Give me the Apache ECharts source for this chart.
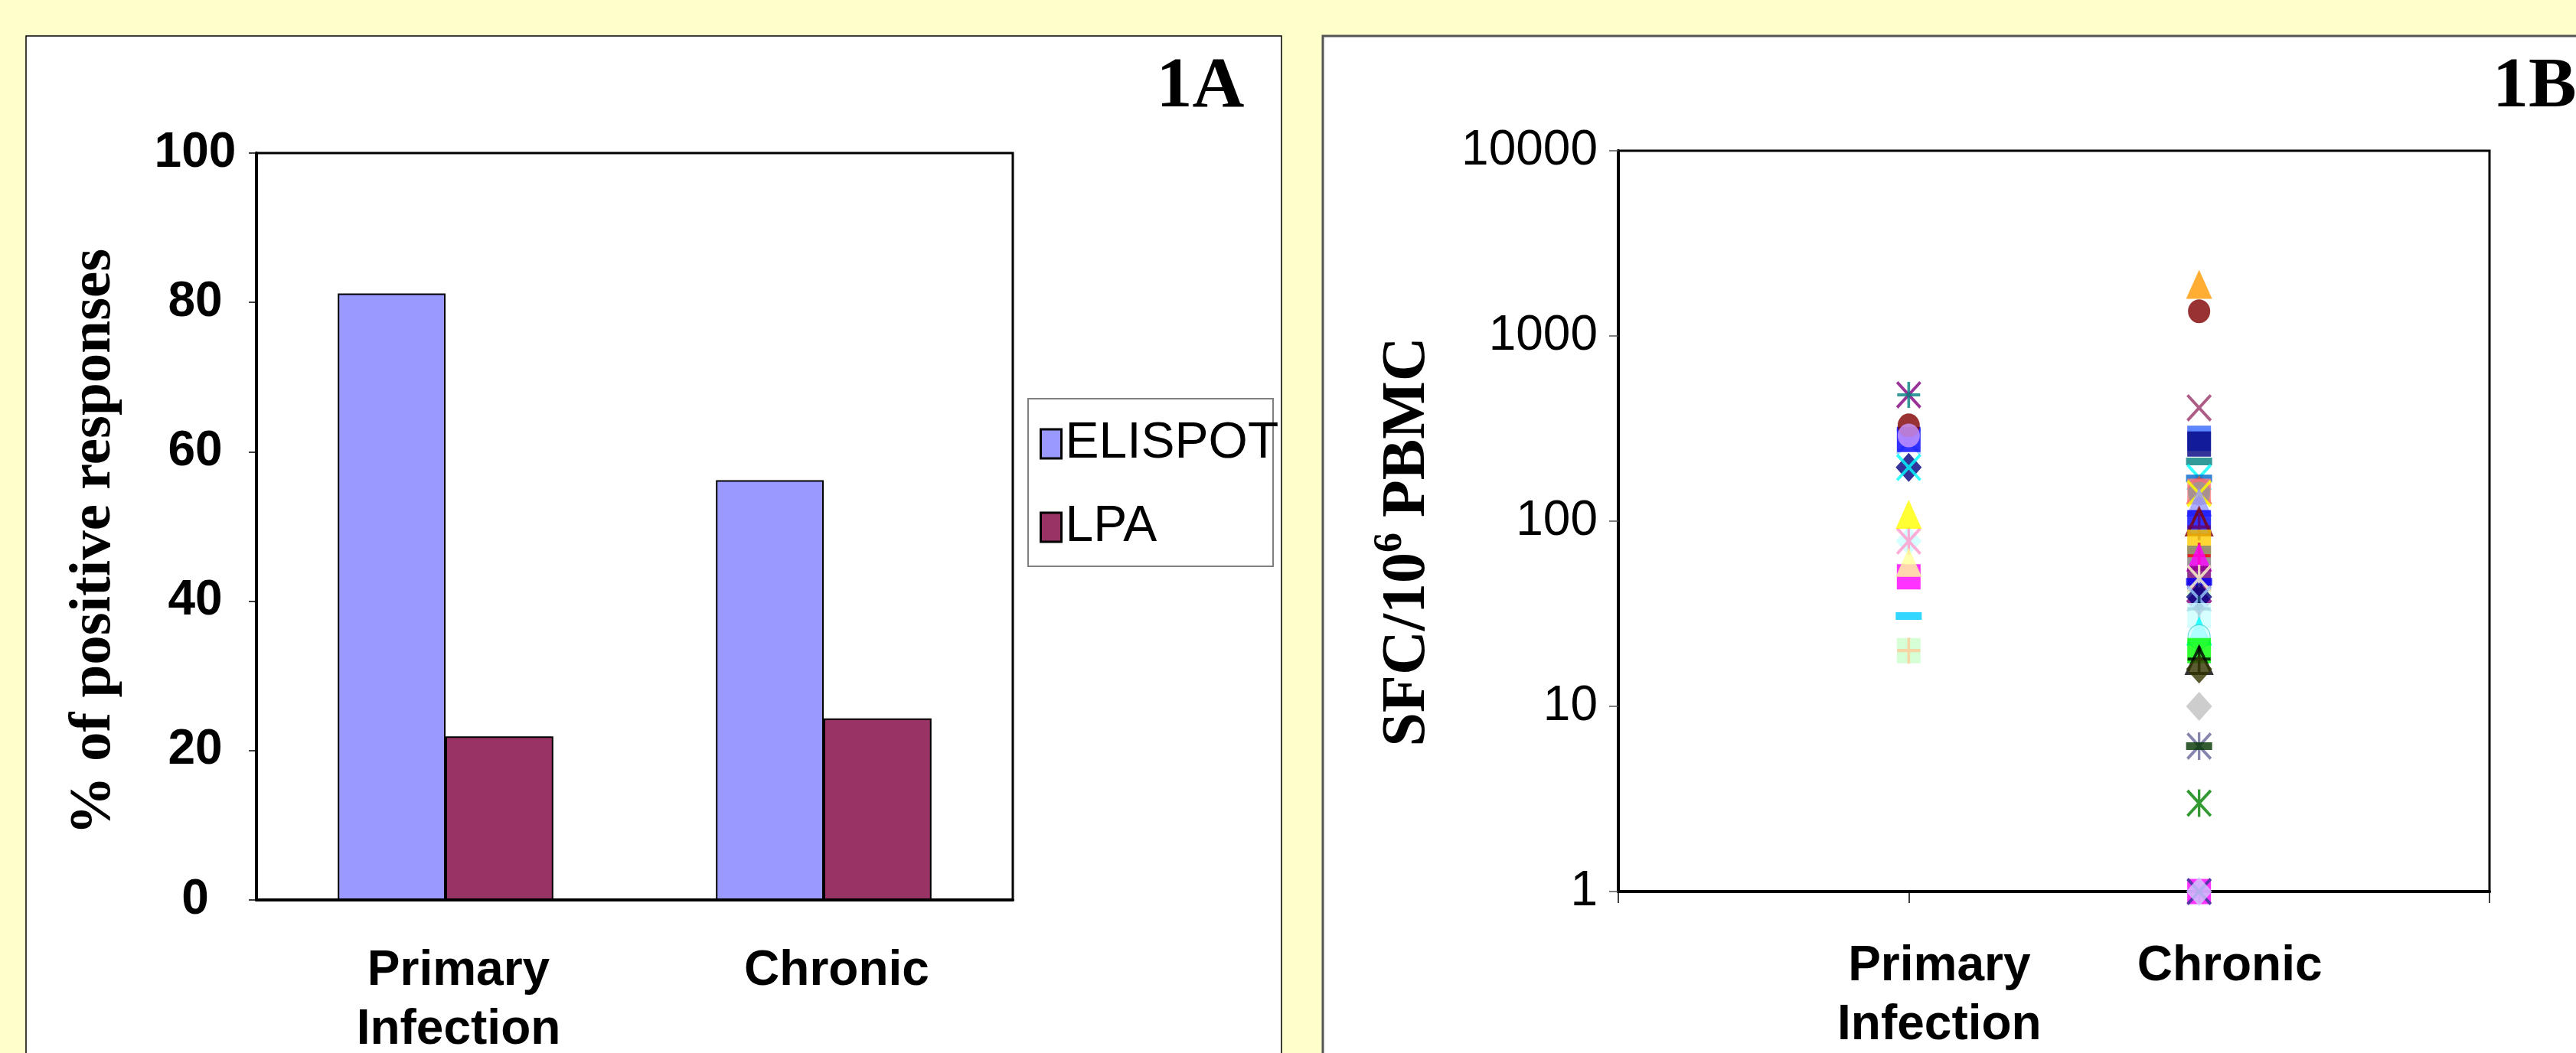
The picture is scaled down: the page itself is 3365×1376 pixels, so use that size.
<!DOCTYPE html>
<html>
<head>
<meta charset="utf-8">
<script src="https://cdn.jsdelivr.net/npm/echarts@6/dist/echarts.min.js"></script>
<style>
html,body{margin:0;padding:0;background:#FFFFCC;}
#chart{width:3365px;height:1376px;}
</style>
</head>
<body>
<div id="chart"></div>
<script>
// ---------- DATA ----------
const barCategories = ['Primary\nInfection', 'Chronic'];
const elispotValues = [81.2, 56.2];
const lpaValues = [21.9, 24.3];

const scatterGroups = ['Primary\nInfection', 'Chronic'];
const logTicks = [1, 10, 100, 1000, 10000];

const primaryValues = [481, 481, 269, 276, 329, 290, 195, 195, 78, 78, 109, 50, 60, 30.7, 20, 20];
const primaryMarkers = [
  ['x', '#800080'], ['plus', '#008080'], ['x', '#99CCFF'], ['square', '#0000FF'],
  ['circle', '#800000'], ['circle', '#CC99FF'], ['diamond', '#000080'], ['x', '#00FFFF'],
  ['diamond', '#CCFFFF'], ['star', '#FF99CC'], ['triangle', '#FFFF00'], ['square', '#FF00FF'],
  ['triangle', '#FFFF99'], ['dash', '#00CCFF'], ['square', '#CCFFCC'], ['plus', '#FFCC99']
];

const chronicValues = [1900, 1360, 409, 280, 261, 210, 172, 170, 148, 148, 145, 141, 141, 127,
  98, 99, 93, 77, 63, 65, 64, 46, 49, 47, 49, 37, 39, 38, 33.6, 30.9, 25.5, 23.8, 20, 17.7, 18,
  15.9, 10, 6.1, 6.1, 3, 1, 1, 1];
const chronicMarkers = [
  ['triangle', '#FF9900'], ['circle', '#800000'], ['x', '#993366'], ['square', '#3366FF'],
  ['square', '#000080'], ['dash', '#008080'], ['x', '#00FFFF'], ['dash', '#0066CC'],
  ['triangle', '#FF6600'], ['circle', '#993366'], ['square', '#FF8080'], ['circle', '#969696'],
  ['x', '#FFFF00'], ['triangle', '#9999FF'], ['square', '#0000FF'], ['hollowTriangle', '#800000'],
  ['plus', '#660066'], ['square', '#FFCC00'], ['square', '#808080'], ['plus', '#FF0000'],
  ['triangle', '#FF00FF'], ['square', '#CCFFCC'], ['square', '#800080'], ['dash', '#0000FF'],
  ['star', '#FFFFCC'], ['diamond', '#800080'], ['diamond', '#000080'], ['x', '#99CCFF'],
  ['plus', '#003366'], ['square', '#CCFFFF'], ['triangle', '#00FFFF'], ['circle', '#CCFFFF'],
  ['square', '#00FF00'], ['hollowTriangle', '#000000'], ['plus', '#000000'], ['diamond', '#333300'],
  ['diamond', '#C0C0C0'], ['star', '#666699'], ['dash', '#003300'], ['star', '#008000'],
  ['square', '#FF00FF'], ['x', '#333399'], ['diamond', '#CCCCFF']
];

// ---------- STYLE ----------
const SANS = 'Liberation Sans, Arial, sans-serif';
const SERIF = 'Liberation Serif, Times New Roman, serif';

const X_PATH = 'path://M0,8 L8,0 L100,92 L92,100 Z M92,0 L100,8 L8,100 L0,92 Z';
const PLUS_PATH = 'path://M44,0 L56,0 L56,100 L44,100 Z M0,44 L100,44 L100,56 L0,56 Z';
const STAR_PATH = 'path://M0,8 L8,0 L100,92 L92,100 Z M92,0 L100,8 L8,100 L0,92 Z M45,0 L55,0 L55,100 L45,100 Z';

const SYMBOLS = {
  circle: {symbol: 'circle', size: [29, 31]},
  square: {symbol: 'rect', size: [31, 33]},
  triangle: {symbol: 'triangle', size: [34, 38]},
  hollowTriangle: {symbol: 'triangle', size: [32, 34], hollow: true},
  diamond: {symbol: 'diamond', size: [34, 38]},
  dash: {symbol: 'rect', size: [34, 10]},
  x: {symbol: X_PATH, size: [33, 36]},
  plus: {symbol: PLUS_PATH, size: [30, 34]},
  star: {symbol: STAR_PATH, size: [33, 36]}
};

function buildPoints(xPos, values, markers) {
  return values.map(function (v, i) {
    const def = SYMBOLS[markers[i][0]];
    const color = markers[i][1];
    const item = {
      value: [xPos, v],
      symbol: def.symbol,
      symbolSize: def.size,
      itemStyle: def.hollow
        ? {color: 'rgba(0,0,0,0)', borderColor: color, borderWidth: 4}
        : {color: color}
    };
    if (markers[i][0] === 'circle' && color === '#CCFFFF') {
      item.itemStyle.borderColor = '#33CCCC';
      item.itemStyle.borderWidth = 1;
    }
    return item;
  });
}

const chart = echarts.init(document.getElementById('chart'), null, {renderer: 'canvas'});

const option = {
  animation: false,
  backgroundColor: '#FFFFCC',
  graphic: [
    {type: 'rect', z: -10, shape: {x: 34, y: 47, width: 1640, height: 1400},
      style: {fill: '#ffffff', stroke: '#000000', lineWidth: 1.5}},
    {type: 'rect', z: -10, shape: {x: 1728, y: 47, width: 1700, height: 1400},
      style: {fill: '#ffffff', stroke: '#555555', lineWidth: 3}},
    {type: 'rect', z: -5, shape: {x: 1343, y: 521, width: 320, height: 219},
      style: {fill: '#ffffff', stroke: '#808080', lineWidth: 2}},
    {type: 'text', z: 10, x: 1568, y: 115,
      style: {text: '1A', font: 'bold 94px ' + SERIF, fill: '#000', align: 'center', verticalAlign: 'middle'}},
    {type: 'text', z: 10, x: 3256, y: 115,
      style: {text: '1B', font: 'bold 94px ' + SERIF, fill: '#000', align: 'left', verticalAlign: 'middle'}},
    {type: 'text', z: 10, x: 123, y: 708, rotation: Math.PI / 2,
      style: {text: '% of positive responses', font: 'bold 77px ' + SERIF, fill: '#000',
        align: 'center', verticalAlign: 'middle'}},
    {type: 'text', z: 10, x: 1831, y: 708, rotation: Math.PI / 2,
      style: {
        text: '{a|SFC/10}{s|6}{a| PBMC}',
        align: 'center', verticalAlign: 'middle',
        rich: {
          a: {fontSize: 80, fontWeight: 'bold', fontFamily: SERIF, fill: '#000', lineHeight: 96, verticalAlign: 'bottom'},
          s: {fontSize: 52, fontWeight: 'bold', fontFamily: SERIF, fill: '#000', lineHeight: 60, verticalAlign: 'bottom', padding: [0, 0, 36, 0]}
        }
      }}
  ],
  legend: {
    data: ['ELISPOT', 'LPA'],
    orient: 'vertical',
    left: 1358, top: 544,
    padding: 0,
    itemWidth: 27, itemHeight: 38, itemGap: 37,
    icon: 'rect',
    itemStyle: {borderColor: '#000', borderWidth: 3},
    textStyle: {fontSize: 66, fontFamily: SANS, color: '#000', lineHeight: 72}
  },
  grid: [
    {left: 335, top: 200, width: 988, height: 976, show: true, backgroundColor: '#fff',
      borderColor: '#000', borderWidth: 3, containLabel: false, outerBoundsMode: 'none'},
    {left: 2114, top: 197, width: 1138, height: 968, show: true, backgroundColor: '#fff',
      borderColor: '#000', borderWidth: 3, containLabel: false, outerBoundsMode: 'none'}
  ],
  xAxis: [
    {
      gridIndex: 0, type: 'category', data: barCategories,
      axisLine: {lineStyle: {color: '#000', width: 4}},
      axisTick: {length: 15, lineStyle: {color: '#000', width: 1.5}},
      axisLabel: {fontSize: 64, fontWeight: 'bold', fontFamily: SANS, color: '#000',
        lineHeight: 77, margin: 55, padding: [0, 0, 0, 34]}
    },
    {
      gridIndex: 1, type: 'value', min: 0, max: 3, interval: 1,
      splitLine: {show: false},
      axisLine: {onZero: false, lineStyle: {color: '#000', width: 4}},
      axisTick: {length: 15, lineStyle: {color: '#000', width: 1.5}},
      axisLabel: {
        fontSize: 64, fontWeight: 'bold', fontFamily: SANS, color: '#000',
        lineHeight: 77, margin: 60, padding: [0, 0, 0, 80],
        formatter: function (v) { return (v >= 1 && v <= scatterGroups.length) ? scatterGroups[v - 1] : ''; }
      }
    }
  ],
  yAxis: [
    {
      gridIndex: 0, type: 'value', min: 0, max: 100, interval: 20,
      splitLine: {show: false},
      axisLine: {show: true, lineStyle: {color: '#000', width: 4}},
      axisTick: {show: true, length: 10, lineStyle: {color: '#000', width: 1.5}},
      axisLabel: {fontSize: 64, fontWeight: 'bold', fontFamily: SANS, color: '#000', margin: 80, align: 'center'}
    },
    {
      gridIndex: 1, type: 'log', logBase: 10, min: logTicks[0], max: logTicks[logTicks.length - 1],
      splitLine: {show: false},
      axisLine: {show: true, lineStyle: {color: '#000', width: 4}},
      axisTick: {show: true, length: 12, lineStyle: {color: '#555', width: 1.5}},
      axisLabel: {fontSize: 64, fontFamily: SANS, color: '#000', margin: 27,
        formatter: function (v) { return String(Math.round(v)); }}
    }
  ],
  series: [
    {name: 'ELISPOT', type: 'bar', xAxisIndex: 0, yAxisIndex: 0, data: elispotValues,
      barCategoryGap: '43%', barGap: '0%',
      itemStyle: {color: '#9999FF', borderColor: '#000', borderWidth: 2}},
    {name: 'LPA', type: 'bar', xAxisIndex: 0, yAxisIndex: 0, data: lpaValues,
      barCategoryGap: '43%', barGap: '0%',
      itemStyle: {color: '#993366', borderColor: '#000', borderWidth: 2}},
    {name: 'primary', type: 'scatter', xAxisIndex: 1, yAxisIndex: 1, clip: false,
      data: buildPoints(1, primaryValues, primaryMarkers)},
    {name: 'chronic', type: 'scatter', xAxisIndex: 1, yAxisIndex: 1, clip: false,
      data: buildPoints(2, chronicValues, chronicMarkers)}
  ]
};
chart.setOption(option);
</script>
</body>
</html>
